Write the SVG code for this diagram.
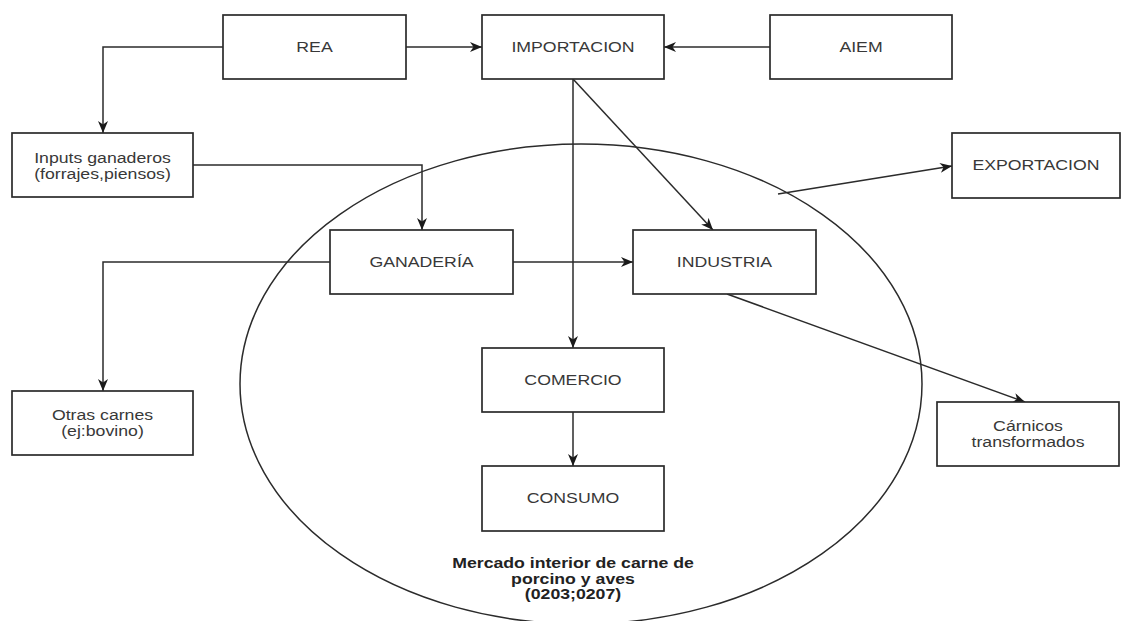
<svg xmlns="http://www.w3.org/2000/svg" width="1121" height="621" viewBox="0 0 1121 621">
<style>
.box{fill:#fff;stroke:#2b2b2b;stroke-width:1.7}
.lbl{font-family:"Liberation Sans",Arial,sans-serif;font-size:15px;fill:#383838;text-anchor:middle}
.big{font-family:"Liberation Sans",Arial,sans-serif;font-size:14.5px;font-weight:bold;fill:#222;text-anchor:middle}
.edge{fill:none;stroke:#2b2b2b;stroke-width:1.5}
</style>
<defs>
<marker id="arr" markerUnits="userSpaceOnUse" markerWidth="14" markerHeight="12" refX="12" refY="5" orient="auto">
<path d="M0,0 L12,5 L0,10 L3.5,5 Z" fill="#1a1a1a"/>
</marker>
</defs>
<rect width="1121" height="621" fill="#fff"/>
<ellipse id="mercado" cx="581" cy="384" rx="341" ry="240" fill="none" stroke="#2b2b2b" stroke-width="1.5"/>
<g id="connectors">
<path class="edge" d="M406,47 L482,47" marker-end="url(#arr)"/>
<path class="edge" d="M770,47 L664,47" marker-end="url(#arr)"/>
<path class="edge" d="M223,47 L103,47 L103,133" marker-end="url(#arr)"/>
<path class="edge" d="M193,165 L422,165 L422,230" marker-end="url(#arr)"/>
<path class="edge" d="M573,79 L573,348" marker-end="url(#arr)"/>
<path class="edge" d="M573,79 L713,230" marker-end="url(#arr)"/>
<path class="edge" d="M513,262 L633,262" marker-end="url(#arr)"/>
<path class="edge" d="M330,262 L103,262 L103,391" marker-end="url(#arr)"/>
<path class="edge" d="M573,412 L573,466" marker-end="url(#arr)"/>
<path class="edge" d="M727,294 L1025,402" marker-end="url(#arr)"/>
<path class="edge" d="M778,194 L952,166" marker-end="url(#arr)"/>
</g>
<g id="rea"><rect class="box" x="223" y="15" width="183" height="64"/><text class="lbl" transform="translate(314.5,52) scale(1.18,1)">REA</text></g>
<g id="importacion"><rect class="box" x="482" y="15" width="182" height="64"/><text class="lbl" transform="translate(573,52) scale(1.18,1)">IMPORTACION</text></g>
<g id="aiem"><rect class="box" x="770" y="15" width="182" height="64"/><text class="lbl" transform="translate(861,52) scale(1.18,1)">AIEM</text></g>
<g id="inputs"><rect class="box" x="12" y="133" width="181" height="64"/><text class="lbl" transform="translate(102.5,163) scale(1.18,1)">Inputs ganaderos</text><text class="lbl" transform="translate(102.5,179) scale(1.18,1)">(forrajes,piensos)</text></g>
<g id="exportacion"><rect class="box" x="952" y="133" width="168" height="65"/><text class="lbl" transform="translate(1036,170) scale(1.18,1)">EXPORTACION</text></g>
<g id="ganaderia"><rect class="box" x="330" y="230" width="183" height="64"/><text class="lbl" transform="translate(421.5,267) scale(1.18,1)">GANADERÍA</text></g>
<g id="industria"><rect class="box" x="633" y="230" width="183" height="64"/><text class="lbl" transform="translate(724.5,267) scale(1.18,1)">INDUSTRIA</text></g>
<g id="comercio"><rect class="box" x="482" y="348" width="182" height="64"/><text class="lbl" transform="translate(573,385) scale(1.18,1)">COMERCIO</text></g>
<g id="consumo"><rect class="box" x="482" y="466" width="182" height="65"/><text class="lbl" transform="translate(573,503) scale(1.18,1)">CONSUMO</text></g>
<g id="otras"><rect class="box" x="12" y="391" width="181" height="64"/><text class="lbl" transform="translate(102.5,420) scale(1.18,1)">Otras carnes</text><text class="lbl" transform="translate(102.5,436) scale(1.18,1)">(ej:bovino)</text></g>
<g id="carnicos"><rect class="box" x="937" y="402" width="182" height="64"/><text class="lbl" transform="translate(1028,431) scale(1.18,1)">Cárnicos</text><text class="lbl" transform="translate(1028,447) scale(1.18,1)">transformados</text></g>
<g id="mercado-label">
<text class="big" transform="translate(573,568) scale(1.22,1)">Mercado interior de carne de</text>
<text class="big" transform="translate(573,584) scale(1.22,1)">porcino y aves</text>
<text class="big" transform="translate(573,599) scale(1.22,1)">(0203;0207)</text>
</g>
</svg>
